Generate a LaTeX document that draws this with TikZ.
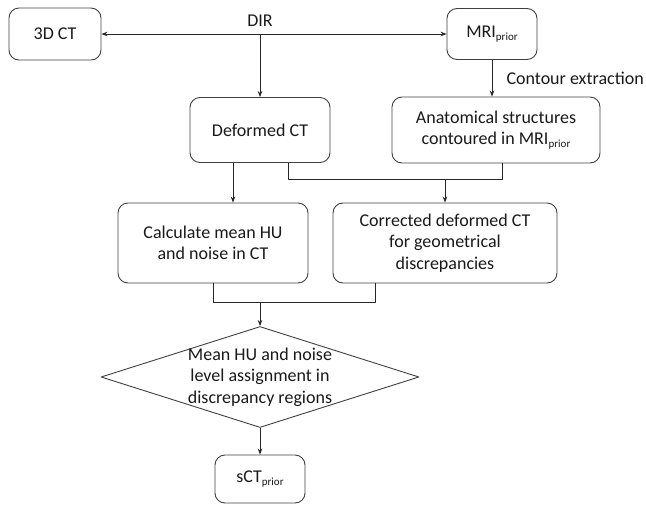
\documentclass[tikz,border=0pt]{standalone}
\usepackage{fontspec}
\setmainfont{Carlito}
\usetikzlibrary{shapes.geometric,arrows.meta}
\newcommand{\lowtxt}[1]{\raisebox{-0.35ex}{\fontsize{11}{12}\selectfont #1}}

\begin{document}
\begin{tikzpicture}[x=1pt,y=-1pt,>={Stealth[length=6pt,width=4.5pt]}, font=\fontsize{18}{21.5}\selectfont, line join=round,
    box/.style={draw=black!75, line width=0.9pt, rounded corners=10pt, align=center, inner sep=2pt, text=black!90},
    decision/.style={draw=black!75, line width=0.9pt, diamond, inner sep=0pt},
    link/.style={draw=black!85, line width=0.8pt}]
  \useasboundingbox (0,0) rectangle (646,504);
  % boxes
  \node[box, minimum width=92pt, minimum height=52pt] (ct3d) at (55,34) {3D CT};
  \node[box, minimum width=90pt, minimum height=51pt] (mri) at (492,34) {MRI\lowtxt{prior}};
  \node[box, minimum width=140pt, minimum height=65pt] (deformed) at (260,130) {Deformed CT};
  \node[box, minimum width=208pt, minimum height=66pt] (anat) at (496,130) {Anatomical structures\\contoured in MRI\lowtxt{prior}};
  \node[box, minimum width=190pt, minimum height=80pt] (calc) at (213,243) {Calculate mean HU\\and noise in CT};
  \node[box, minimum width=224pt, minimum height=80pt] (corr) at (445,243) {Corrected deformed CT\\for geometrical\\discrepancies};
  \node[decision, minimum width=318pt, minimum height=101pt] (assign) at (260,377) {};
  \node[align=center, text=black!90] (assigntxt) at (assign.center) {Mean HU and noise\\level assignment in\\discrepancy regions};
  \node[box, minimum width=90pt, minimum height=48pt] (sct) at (260,479) {sCT\lowtxt{prior}};
  % labels
  \coordinate (dir) at (260,34);
  \node[text=black!90] (dirlabel) at (260,21) {DIR};
  \node[anchor=west, text=black!90] (contour) at (503,78) {Contour extraction};
  \coordinate (join1) at (445,179);
  \coordinate (join2) at (260,302);
  % connectors
  \draw[link,<->] (ct3d) -- (mri);
  \draw[link,->] (dir) -- (deformed);
  \draw[link,->] (mri.south) -- (mri.south |- anat.north);
  \draw[link,->] ([xshift=-27pt]deformed.south) -- ([xshift=-27pt]deformed.south |- calc.north);
  \draw[link] ([xshift=28pt]deformed.south) |- ([xshift=6pt]anat.south |- join1) -- ([xshift=6pt]anat.south);
  \draw[link,->] (join1) -- (corr.north);
  \draw[link] (calc.south) |- ([xshift=-70pt]corr.south |- join2) -- ([xshift=-70pt]corr.south);
  \draw[link,->] (join2) -- (assign.north);
  \draw[link,->] (assign.south) -- (sct.north);
\end{tikzpicture}
\end{document}
